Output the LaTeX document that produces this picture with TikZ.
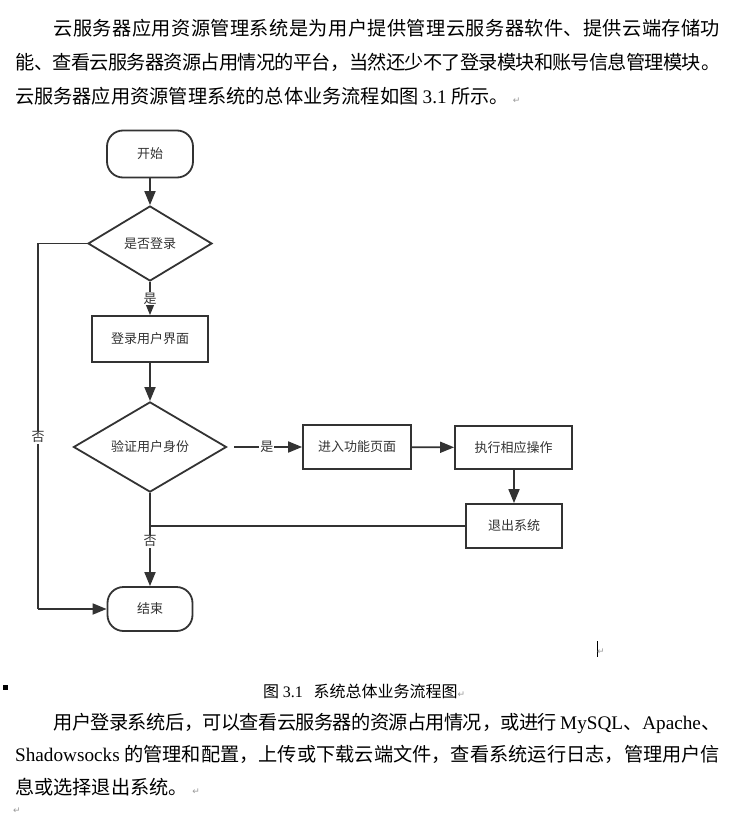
\documentclass[tikz,border=0pt]{standalone}
\usepackage{fontspec}
\setmainfont{Noto Sans CJK SC}
\newfontfamily\tm{Liberation Serif}
\newfontfamily\dv{DejaVu Sans}
\usetikzlibrary{arrows.meta,shapes.geometric}
\XeTeXlinebreaklocale "zh"
\XeTeXlinebreakskip=0pt plus 2pt minus 0.8pt
\definecolor{lc}{HTML}{333333}
\definecolor{tc}{HTML}{333333}
\definecolor{mc}{HTML}{999999}
\newcommand\pmark{{\dv\fontsize{9}{9}\selectfont\textcolor{mc}{↵}}}
\tikzset{
  ln/.style={draw=lc, line width=1.8pt},
  arr/.style={ln, -{Triangle[length=14pt,width=11pt]}},
  dtext/.style={font=\fontsize{13}{15}\selectfont, text=tc},
  term/.style={ln, dtext, rectangle, rounded corners=16pt, inner sep=0pt},
  proc/.style={ln, dtext, rectangle, inner sep=0pt},
  dec/.style={ln, dtext, diamond, inner sep=0pt},
  lab/.style={dtext, fill=white, inner sep=1pt},
  para/.style={anchor=north west, text width=705pt, align=justify, inner sep=0pt, text=black},
}
\begin{document}
\begin{tikzpicture}[x=1pt,y=-1pt]
\useasboundingbox (0,0) rectangle (740,819);
\fill[white] (0,0) rectangle (740,819);

% paragraph 1
\node[para] (p1) at (15,19) {\fontsize{19.2}{34}\selectfont\hspace*{2em}云服务器应用资源管理系统是为用户提供管理云服务器软件、提供云端存储功\linebreak 能、查看云服务器资源占用情况的平台，当然还少不了登录模块和账号信息管理模块。\linebreak 云服务器应用资源管理系统的总体业务流程如图 {\tm 3.1} 所示。\ \pmark\par};

% flowchart
\node[term, minimum width=86pt, minimum height=47pt] (start) at (150,154) {开始};
\node[dec, minimum width=124pt, minimum height=75pt] (d1) at (150,243.5) {是否登录};
\node[proc, minimum width=116pt, minimum height=46pt] (login) at (150,339) {登录用户界面};
\node[dec, minimum width=153pt, minimum height=80pt] (d2) at (150,447) {验证用户身份};
\node[proc, minimum width=108pt, minimum height=44pt] (enter) at (357,447) {进入功能页面};
\node[proc, minimum width=117pt, minimum height=43pt] (exec) at (513.5,447.5) {执行相应操作};
\node[proc, minimum width=96pt, minimum height=44pt] (quit) at (514,526) {退出系统};
\node[term, minimum width=85pt, minimum height=44pt] (end) at (150,609) {结束};

\coordinate (d2r) at ([xshift=7pt]d2.east);
\coordinate (lt) at (38,243.5);
\coordinate (lb) at (38,609);
\coordinate (jn) at (d2.south |- quit.west);

\draw[arr] (start) -- (d1);
\draw[arr] (d1) -- node[lab, pos=0.5] {是} (login);
\draw[arr] (login) -- (d2);
\draw[arr] (d2r) -- node[lab, pos=0.48] {是} (enter);
\draw[arr] (enter) -- (exec);
\draw[arr] (exec.south -| quit.north) -- (quit.north);
\draw[ln] (quit.west) -- (jn);
\draw[arr] (d2) -- node[lab, pos=0.52] {否} (end);
\draw[ln] (d1.west) -- (lt) -- node[lab, pos=0.53] {否} (lb);
\draw[arr] (lb) -- (end.west);

% marks
\draw[black, line width=0.8pt] (597,641) -- (597,657);
\node[inner sep=0pt, anchor=west] (cm) at (597,652) {\pmark};
\fill[black] (3,685) rectangle (8,690);

% caption
\node[anchor=west, inner sep=0pt] (cap) at (263,691) {\fontsize{16}{18}\selectfont 图 {\tm 3.1}\ \ \ 系统总体业务流程图\pmark};

% paragraph 2
\node[para] (p2) at (15,713) {\fontsize{19.2}{32.5}\selectfont\hspace*{2em}用户登录系统后，可以查看云服务器的资源占用情况，或进行 {\tm MySQL}、{\tm Apache}、\linebreak {\tm Shadowsocks} 的管理和配置，上传或下载云端文件，查看系统运行日志，管理用户信\linebreak 息或选择退出系统。\ \pmark\par};

\node[inner sep=0pt, anchor=west] (bm) at (13,811) {\pmark};
\end{tikzpicture}
\end{document}
